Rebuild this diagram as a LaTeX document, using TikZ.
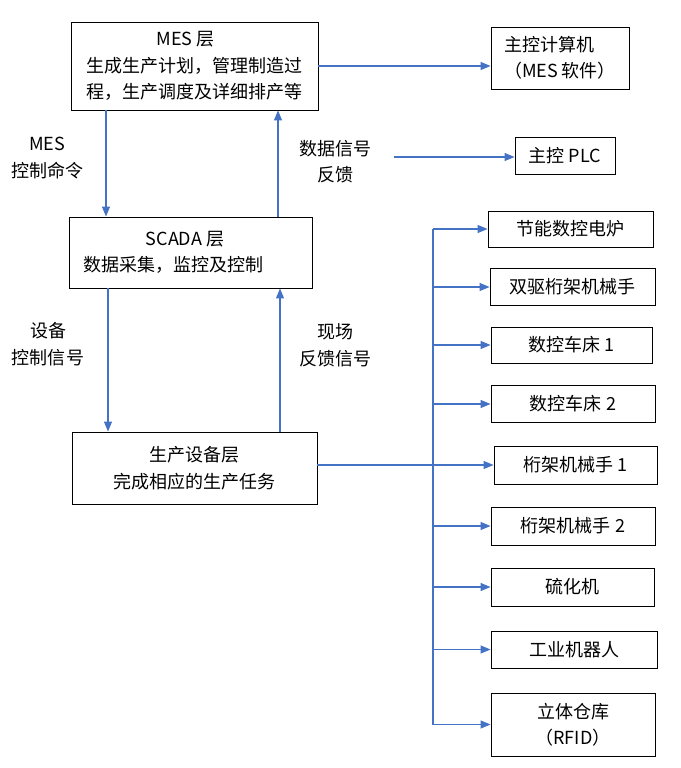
\documentclass[tikz,border=0pt]{standalone}
\usepackage{fontspec}
\setmainfont{Noto Sans CJK SC}
\usetikzlibrary{arrows.meta}
\definecolor{lineblue}{HTML}{4472C4}
\tikzset{
  box/.style={draw=black, line width=0.9pt, rectangle, align=center, inner sep=0pt,
    font=\fontsize{18}{26.5}\selectfont},
  lbl/.style={align=center, inner sep=0pt, font=\fontsize{18}{26.5}\selectfont},
  arr/.style={draw=lineblue, line width=1.1pt, -{Triangle[length=10pt,width=8pt]}},
  plain/.style={draw=lineblue, line width=1.1pt}
}
\begin{document}
\begin{tikzpicture}[x=1pt,y=-1pt]
\useasboundingbox (0,0) rectangle (680,768);
% left column
\node[box, minimum width=247pt, minimum height=88pt] (mes) at (194.5,66) {MES 层\hspace*{18pt}\\生成生产计划，管理制造过\\程，生产调度及详细排产等};
\node[box, minimum width=243pt, minimum height=71pt] (scada) at (190.5,252.5) {SCADA 层\hspace*{11pt}\\数据采集，监控及控制\hspace*{35pt}};
\node[box, minimum width=245pt, minimum height=72pt] (prod) at (194.5,468) {生产设备层\\完成相应的生产任务};
% top right
\node[box, minimum width=138pt, minimum height=62pt] (comp) at (560,58) {主控计算机\hspace*{22pt}\\（MES 软件）};
\node[box, minimum width=100pt, minimum height=37pt] (plc) at (565,155.5) {主控 PLC};
% equipment list
\node[box, minimum width=165pt, minimum height=36pt] (furnace) at (570.5,229) {节能数控电炉};
\node[box, minimum width=165pt, minimum height=37pt] (sq) at (572.5,287) {双驱桁架机械手};
\node[box, minimum width=161pt, minimum height=36pt] (lathe1) at (571.5,345) {数控车床 1};
\node[box, minimum width=164pt, minimum height=37pt] (lathe2) at (573,404) {数控车床 2};
\node[box, minimum width=163pt, minimum height=38pt] (tm1) at (575.5,465) {桁架机械手 1};
\node[box, minimum width=164pt, minimum height=38pt] (tm2) at (573,526) {桁架机械手 2};
\node[box, minimum width=163pt, minimum height=38pt] (vul) at (572.5,587) {硫化机};
\node[box, minimum width=166pt, minimum height=37pt] (robot) at (574,649.5) {工业机器人};
\node[box, minimum width=164pt, minimum height=63pt] (wh) at (573,724.5) {立体仓库\\（RFID）};
% labels
\node[lbl] (l1) at (47,158) {MES\\控制命令};
\node[lbl] (l2) at (335,161.5) {数据信号\\反馈};
\node[lbl] (l3) at (48,344) {设备\\控制信号};
\node[lbl] (l4) at (335,345.5) {现场\\反馈信号};
% connectors
\draw[arr] (mes.east) -- (mes.east -| comp.west);
\coordinate (fb) at (394,157);
\draw[arr] (fb) -- (fb -| plc.west);
\draw[arr] ([xshift=-88.5pt]mes.south) -- ([xshift=-84.5pt]scada.north);
\draw[arr] ([xshift=87.5pt]scada.north) -- ([xshift=83.5pt]mes.south);
\draw[arr] ([xshift=-82.5pt]scada.south) -- ([xshift=-86.5pt]prod.north);
\draw[arr] ([xshift=85.5pt]prod.north) -- ([xshift=89.5pt]scada.south);
\draw[arr] (prod.east |- tm1.west) -- (tm1.west);
% bus
\coordinate (bt) at (433,229);
\coordinate (bb) at (433,724.5);
\draw[plain] (bb) -- (bt);
\draw[arr] (bt) -- (furnace.west);
\foreach \n in {sq,lathe1,lathe2,tm2,vul,robot,wh}{
  \draw[arr] (bt |- \n.west) -- (\n.west);
}
\end{tikzpicture}
\end{document}
